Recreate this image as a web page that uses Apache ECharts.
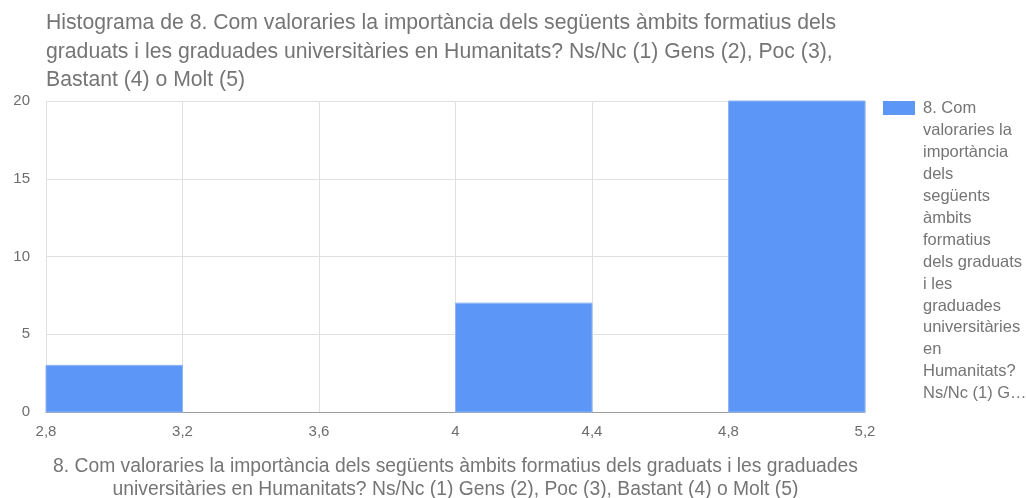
<!DOCTYPE html>
<html><head><meta charset="utf-8">
<script src="https://cdn.jsdelivr.net/npm/echarts@6/dist/echarts.min.js"></script>
<style>html,body{margin:0;padding:0;background:#fff}#c{width:1026px;height:498px}</style>
</head><body><div id="c"></div>
<script>
const binStarts = [2.8, 3.2, 3.6, 4.0, 4.4, 4.8];
const binWidth = 0.4;
const counts = [3, 0, 0, 7, 0, 20];
const titleText = "Histograma de 8. Com valoraries la importància dels següents àmbits formatius dels\ngraduats i les graduades universitàries en Humanitats? Ns/Nc (1) Gens (2), Poc (3),\nBastant (4) o Molt (5)";
const seriesName = "8. Com valoraries la importància dels següents àmbits formatius dels graduats i les graduades universitàries en Humanitats? Ns/Nc (1) Gens (2), Poc (3), Bastant (4) o Molt (5)";
const legendText = "8. Com\nvaloraries la\nimportància\ndels\nsegüents\nàmbits\nformatius\ndels graduats\ni les\ngraduades\nuniversitàries\nen\nHumanitats?\nNs/Nc (1) G…";
const xName = "8. Com valoraries la importància dels següents àmbits formatius dels graduats i les graduades\nuniversitàries en Humanitats? Ns/Nc (1) Gens (2), Poc (3), Bastant (4) o Molt (5)";

const data = binStarts.map((s, i) => [s, s + binWidth, counts[i]]);
const font = '"Liberation Sans", Arial, sans-serif';
const barColor = '#5c96f6';
const chart = echarts.init(document.getElementById('c'));
chart.setOption({
  animation: false,
  textStyle: {fontFamily: font},
  title: {text: titleText, left: 41, top: 4,
    textStyle: {fontFamily: font, fontSize: 21.2, fontWeight: 'normal', color: '#757575', lineHeight: 28.5}},
  legend: {left: 878, top: 96, orient: 'vertical', icon: 'rect', itemWidth: 32, itemHeight: 14,
    formatter: () => '',
    data: [{name: seriesName, itemStyle: {color: barColor}}]},
  graphic: [{type: 'text', left: 923, top: 98, silent: true,
    style: {text: legendText, fontFamily: font, fontSize: 16.5, fill: '#757575', lineHeight: 21.9}}],
  grid: {left: 46, right: 161, top: 101, bottom: 86, outerBoundsMode: 'none', containLabel: false},
  xAxis: {type: 'value', min: 2.8, max: 5.2, interval: 0.4,
    name: xName, nameLocation: 'middle', nameGap: 43,
    nameTextStyle: {fontFamily: font, fontSize: 19.3, color: '#757575', lineHeight: 23, verticalAlign: 'top'},
    axisLine: {show: true, lineStyle: {color: '#9e9e9e', width: 1}},
    axisTick: {show: false},
    splitLine: {show: true, lineStyle: {color: '#e0e0e0'}},
    axisLabel: {fontFamily: font, fontSize: 15, color: '#6d6d6d', margin: 12,
      formatter: v => String(+v.toFixed(1)).replace('.', ',')}},
  yAxis: {type: 'value', min: 0, max: 20, interval: 5,
    axisLine: {show: false}, axisTick: {show: false},
    splitLine: {show: true, lineStyle: {color: '#e0e0e0'}},
    axisLabel: {fontFamily: font, fontSize: 15, color: '#6d6d6d', margin: 16}},
  series: [{
    name: seriesName, type: 'custom',
    itemStyle: {color: barColor},
    encode: {x: [0, 1], y: 2},
    renderItem: function (params, api) {
      if (api.value(2) <= 0) return null;
      const p0 = api.coord([api.value(0), api.value(2)]);
      const p1 = api.coord([api.value(1), 0]);
      return {type: 'rect',
        shape: {x: p0[0], y: p0[1], width: p1[0] - p0[0], height: p1[1] - p0[1]},
        style: {fill: barColor, stroke: '#8fb5f5', lineWidth: 1}};
    },
    data: data
  }]
});
</script></body></html>
